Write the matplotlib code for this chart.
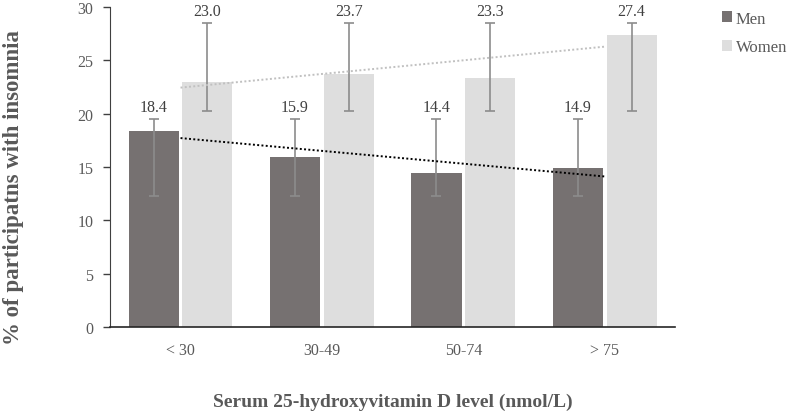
import matplotlib.pyplot as plt
import numpy as np

plt.rcParams['font.family'] = ['Liberation Serif', 'DejaVu Serif']

# data
categories = ['< 30', '30-49', '50-74', '> 75']
men = [18.4, 15.9, 14.4, 14.9]
women = [23.0, 23.7, 23.3, 27.4]
# error bar extents (lower, upper)
men_lo = [12.3, 12.3, 12.3, 12.3]
men_hi = [19.5, 19.5, 19.5, 19.5]
women_lo = [20.25, 20.25, 20.25, 20.25]
women_hi = [28.5, 28.5, 28.5, 28.5]

men_color = '#767171'
women_color = '#DEDEDE'
text_color = '#595959'

fig = plt.figure(figsize=(7.9, 4.14), dpi=100)
ax = fig.add_axes([0.139, 0.208, 0.716, 0.773])

x = np.arange(len(categories))
w = 0.355
gap = 0.025
xm = x - w / 2 - gap / 2
xw = x + w / 2 + gap / 2

ax.bar(xm, men, width=w, color=men_color, label='Men', zorder=2)
ax.bar(xw, women, width=w, color=women_color, label='Women', zorder=2)

ax.errorbar(xm, men, yerr=[np.array(men) - np.array(men_lo), np.array(men_hi) - np.array(men)],
            fmt='none', ecolor='#8c8c8c', elinewidth=1.2, capsize=3.5, capthick=1.2, zorder=3)
ax.errorbar(xw, women, yerr=[np.array(women) - np.array(women_lo), np.array(women_hi) - np.array(women)],
            fmt='none', ecolor='#8c8c8c', elinewidth=1.2, capsize=3.5, capthick=1.2, zorder=3)

for xi, v, top in zip(xm, men, men_hi):
    ax.text(xi, top + 0.35, f'{v:.1f}', ha='center', va='bottom', fontsize=11.5, color='#404040')
for xi, v, top in zip(xw, women, women_hi):
    ax.text(xi, top + 0.35, f'{v:.1f}', ha='center', va='bottom', fontsize=11.5, color='#404040')

# linear trendlines
pm = np.polyfit(x, men, 1)
pw = np.polyfit(x, women, 1)
ax.plot(x, np.polyval(pm, x), ls=(0, (1, 1.2)), color='black', lw=1.4, zorder=4)
ax.plot(x, np.polyval(pw, x), ls=(0, (1, 1.2)), color='#C0C0C0', lw=1.4, zorder=4)

ax.set_xlim(-0.5, 3.5)
ax.set_ylim(0, 30)
ax.set_yticks(range(0, 31, 5))
ax.set_xticks(x)
ax.set_xticklabels(categories)
ax.tick_params(axis='x', length=0, pad=11, labelsize=11.5, labelcolor=text_color)
ax.tick_params(axis='y', length=5, width=1, color='#404040', labelsize=11.5, labelcolor=text_color, pad=7)
for s in ['top', 'right']:
    ax.spines[s].set_visible(False)
ax.spines['left'].set_color('#404040')
ax.spines['bottom'].set_color('#262626')
ax.spines['bottom'].set_linewidth(1.2)

ax.set_ylabel('% of participatns with insomnia', fontsize=16.5, fontweight='bold',
              color=text_color)
ax.yaxis.set_label_coords(-0.152, 0.44)
ax.set_xlabel('Serum 25-hydroxyvitamin D level (nmol/L)', fontsize=14, fontweight='bold',
              color=text_color, labelpad=25)

leg = ax.legend(loc='upper left', bbox_to_anchor=(1.055, 1.035), frameon=False, fontsize=12,
                handlelength=0.6, handleheight=0.6, handletextpad=0.25, labelspacing=0.75)
for t in leg.get_texts():
    t.set_color(text_color)

fig.savefig('out.png', dpi=100)
